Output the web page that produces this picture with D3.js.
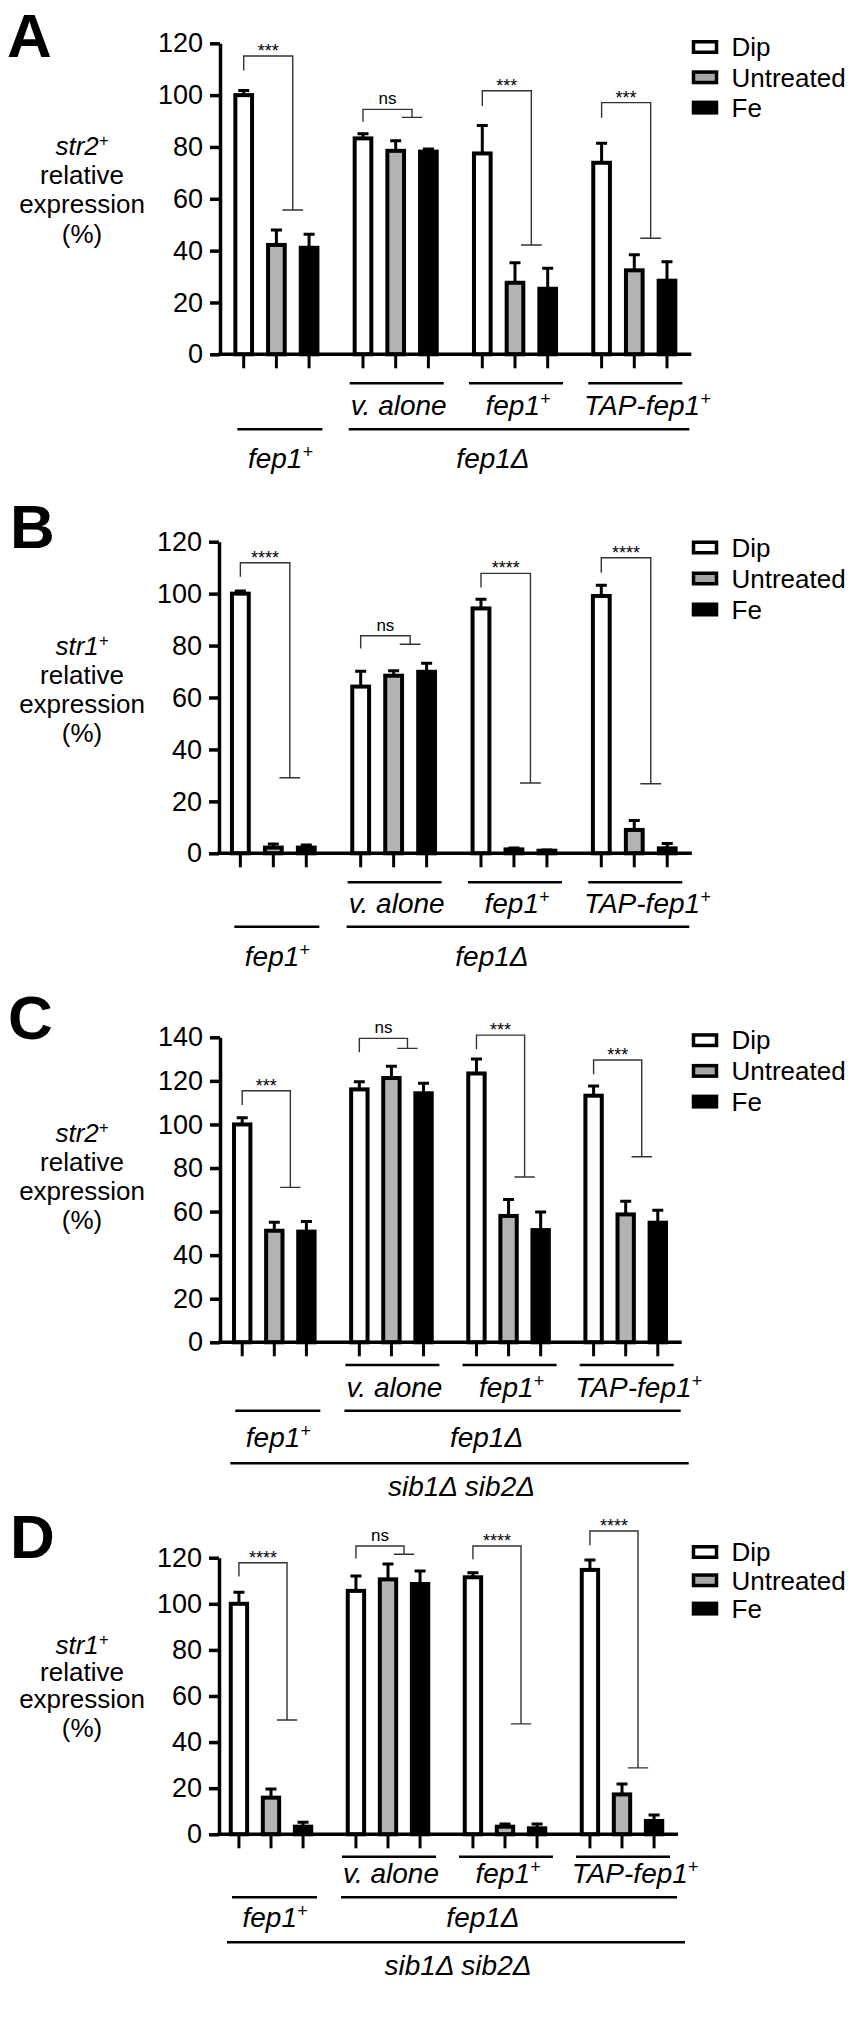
<!DOCTYPE html>
<html><head><meta charset="utf-8">
<script src="https://cdn.jsdelivr.net/npm/d3@7"></script>
<style>
body{margin:0;background:#fff}
svg{display:block}
text{font-family:'Liberation Sans',Arial,Helvetica,sans-serif;fill:#000}
</style>
</head><body>
<svg id="chart" width="851" height="2031"></svg>
<script>
// ---------- data ----------
const treatments = ["Dip", "Untreated", "Fe"];
const strains = ["fep1+", "fep1Δ v. alone", "fep1Δ fep1+", "fep1Δ TAP-fep1+"];
const strainLabels = ["fep1+", "v. alone", "fep1+", "TAP-fep1+"];
const backgroundLabel = "fep1Δ";
const doubleMutantLabel = "sib1Δ sib2Δ";
const panelLetters = ["A", "B", "C", "D"];
const geneLabels = ["str2+", "str1+", "str2+", "str1+"];
const yLabelLines = ["relative", "expression", "(%)"];
const yTicksA = [0, 20, 40, 60, 80, 100, 120];
const yTicksB = [0, 20, 40, 60, 80, 100, 120];
const yTicksC = [0, 20, 40, 60, 80, 100, 120, 140];
const yTicksD = [0, 20, 40, 60, 80, 100, 120];

// means [strain][treatment] and SD (upper error)
const meansA = [[100, 42.2, 41.1], [83.3, 78.5, 78.2], [77.5, 27.6, 25.3], [73.9, 32.4, 28.4]];
const errA   = [[1.8, 5.8, 5.2], [1.8, 3.9, 1.0], [10.8, 7.7, 7.9], [7.5, 6.0, 7.3]];
const meansB = [[100, 2.2, 2.2], [64.2, 68.4, 69.9], [94.3, 1.5, 1.0], [99.1, 9.0, 1.9]];
const errB   = [[1.0, 1.4, 1.0], [5.9, 1.9, 3.3], [3.5, 0.5, 0.3], [4.1, 3.6, 1.9]];
const meansC = [[100, 51.2, 50.8], [116.1, 121.3, 114.3], [123.4, 58.0, 51.5], [113.2, 58.7, 54.9]];
const errC   = [[3.1, 3.9, 4.6], [3.5, 5.4, 4.6], [6.6, 7.6, 8.3], [4.4, 6.0, 5.7]];
const meansD = [[100, 15.9, 3.3], [105.6, 110.6, 108.6], [111.5, 3.3, 2.6], [114.7, 17.3, 5.8]];
const errD   = [[5.0, 3.8, 1.9], [6.5, 6.7, 5.6], [2.0, 1.2, 1.9], [4.3, 4.5, 2.6]];

// significance: label per strain, bracket levels [left leg end, top, right leg end] in % units
const sigA = ["***", "ns", "***", "***"];
const sigLevelsA = [[109.5, 115.1, 55.7], [89.7, 94.5, 91.4], [95.8, 101.7, 42.2], [91.3, 97.1, 44.8]];
const sigB = ["****", "ns", "****", "****"];
const sigLevelsB = [[106.5, 111.9, 29.1], [78.9, 83.8, 80.5], [102.4, 107.8, 27.1], [108.0, 113.8, 26.8]];
const sigC = ["***", "ns", "***", "***"];
const sigLevelsC = [[108.9, 115.5, 71.1], [133.1, 139.5, 134.9], [134.5, 141.0, 75.9], [123.0, 129.6, 85.2]];
const sigD = ["****", "ns", "****", "****"];
const sigLevelsD = [[111.8, 117.8, 49.6], [119.7, 125.1, 121.5], [119.3, 125.1, 47.9], [125.4, 131.6, 28.8]];

const fills = {Dip: "#ffffff", Untreated: "#b3b3b3", Fe: "#000000"};

// ---------- layout (pixel positions per panel) ----------
const layouts = [
  {top: 43.3, zero: 354.3, axisX: 220, L: 219.35, R: 691.35, letterX: 7, letterY: 57,
   legendY: 47, legendStep: 30.3, ylab: [155, 184, 213, 243],
   upLine: 383.3, upText: 415, lowLine: 429.3, lowText: 468, sibLine: null, sibText: null},
  {top: 541.7, zero: 853.3, axisX: 219, L: 215.8, R: 691.8, letterX: 10, letterY: 548,
   legendY: 547.5, legendStep: 31, ylab: [655, 684, 713, 742],
   upLine: 882.3, upText: 913, lowLine: 926.7, lowText: 966, sibLine: null, sibText: null},
  {top: 1037.3, zero: 1342.3, axisX: 220, L: 218.3, R: 681.7, letterX: 8, letterY: 1039,
   legendY: 1040.2, legendStep: 30.7, ylab: [1142, 1171, 1200, 1229],
   upLine: 1365, upText: 1396.7, lowLine: 1410.7, lowText: 1446.7, sibLine: 1463.3, sibText: 1496},
  {top: 1557.7, zero: 1834.3, axisX: 219, L: 215.05, R: 677.95, letterX: 10, letterY: 1558,
   legendY: 1552, legendStep: 28.3, ylab: [1654, 1681, 1708, 1737],
   upLine: 1856.7, upText: 1883.3, lowLine: 1897.3, lowText: 1926.7, sibLine: 1942.3, sibText: 1975}
];

const panels = [
  {means: meansA, err: errA, ticks: yTicksA, sig: sigA, levels: sigLevelsA},
  {means: meansB, err: errB, ticks: yTicksB, sig: sigB, levels: sigLevelsB},
  {means: meansC, err: errC, ticks: yTicksC, sig: sigC, levels: sigLevelsC},
  {means: meansD, err: errD, ticks: yTicksD, sig: sigD, levels: sigLevelsD}
];

const svg = d3.select("#chart");

function supText(sel, str, fs, italic) {
  const t = sel.attr("font-size", fs);
  if (italic) t.attr("font-style", "italic");
  if (str.endsWith("+")) {
    t.append("tspan").text(str.slice(0, -1));
    t.append("tspan").attr("dy", -fs * 0.36).attr("font-size", fs * 0.64).text("+");
  } else {
    t.text(str);
  }
  return t;
}

panels.forEach((p, pi) => {
  const lay = layouts[pi];
  const g = svg.append("g");
  const yMax = d3.max(p.ticks);
  const y = d3.scaleLinear().domain([0, yMax]).range([lay.zero, lay.top]);
  const x0 = d3.scaleBand().domain(strains).range([lay.L, lay.R]).paddingInner(0.0436).paddingOuter(0);
  const x1 = d3.scaleBand().domain(treatments).range([0, x0.bandwidth()]).padding(0.49);
  const bw = x1.bandwidth();
  const cx = (si, t) => x0(strains[si]) + x1(t) + bw / 2;

  // panel letter
  g.append("text").attr("x", lay.letterX).attr("y", lay.letterY)
    .attr("font-size", 62).attr("font-weight", "bold").text(panelLetters[pi]);

  // y label
  const ylx = 82;
  supText(g.append("text").attr("x", ylx).attr("y", lay.ylab[0]).attr("text-anchor", "middle"), geneLabels[pi], 26, true);
  yLabelLines.forEach((s, i) => {
    g.append("text").attr("x", ylx).attr("y", lay.ylab[i + 1]).attr("text-anchor", "middle")
      .attr("font-size", 26).text(s);
  });

  // y axis
  const yAxis = g.append("g").attr("transform", `translate(${lay.axisX},0)`)
    .call(d3.axisLeft(y).tickValues(p.ticks).tickSize(10).tickSizeOuter(0).tickPadding(7).tickFormat(d3.format("d")));
  yAxis.select(".domain").attr("stroke", "#000").attr("stroke-width", 3.5);
  yAxis.selectAll(".tick line").attr("stroke", "#000").attr("stroke-width", 3.5);
  yAxis.selectAll(".tick text").attr("font-size", 27).attr("font-family", "'Liberation Sans',Arial,sans-serif").attr("fill", "#000");

  // bars
  const flat = [];
  strains.forEach((s, si) => treatments.forEach((t, ti) => flat.push({si, t, v: p.means[si][ti], e: p.err[si][ti]})));
  g.selectAll("rect.bar").data(flat).enter().append("rect").attr("class", "bar")
    .attr("x", d => x0(strains[d.si]) + x1(d.t))
    .attr("y", d => y(d.v))
    .attr("width", bw)
    .attr("height", d => y(0) - y(d.v))
    .attr("fill", d => fills[d.t]).attr("stroke", "#000").attr("stroke-width", 4);

  // error bars (upper)
  g.selectAll("path.err").data(flat).enter().append("path").attr("class", "err")
    .attr("d", d => {
      const c = cx(d.si, d.t);
      return `M${c},${y(d.v)}V${y(d.v + d.e)}M${c - 5.5},${y(d.v + d.e)}H${c + 5.5}`;
    })
    .attr("fill", "none").attr("stroke", "#000").attr("stroke-width", 3);

  // x axis line
  g.append("line").attr("x1", lay.axisX - 1.75).attr("x2", lay.R).attr("y1", y(0)).attr("y2", y(0))
    .attr("stroke", "#000").attr("stroke-width", 3.5);
  // x ticks
  g.selectAll("line.xt").data(flat).enter().append("line").attr("class", "xt")
    .attr("x1", d => cx(d.si, d.t)).attr("x2", d => cx(d.si, d.t))
    .attr("y1", y(0)).attr("y2", y(0) + 14).attr("stroke", "#000").attr("stroke-width", 3);

  // significance brackets
  strains.forEach((s, si) => {
    const [lb, tp, rb] = p.levels[si];
    const xl = cx(si, "Dip");
    const xr = (cx(si, "Untreated") + cx(si, "Fe")) / 2;
    const capW = bw + 4;
    g.append("path")
      .attr("d", `M${xl},${y(lb)}V${y(tp)}H${xr}V${y(rb)}M${xr - capW / 2},${y(rb)}H${xr + capW / 2}`)
      .attr("fill", "none").attr("stroke", "#333").attr("stroke-width", 1.4);
    const lab = p.sig[si];
    g.append("text").attr("x", (xl + xr) / 2).attr("y", y(tp) + (lab === "ns" ? -5 : 1))
      .attr("text-anchor", "middle").attr("font-size", lab === "ns" ? 17 : 18).attr("fill", "#222").text(lab);
  });

  // legend
  treatments.forEach((t, i) => {
    const ly = lay.legendY + i * lay.legendStep;
    g.append("rect").attr("x", 693.5).attr("y", ly - 5.25).attr("width", 23).attr("height", 10.5)
      .attr("fill", t === "Untreated" ? "#a6a6a6" : fills[t]).attr("stroke", "#000").attr("stroke-width", 3.5);
    g.append("text").attr("x", 731.5).attr("y", ly + 9.2).attr("font-size", 26).text(t);
  });

  // strain labels (upper row for fep1Δ complemented strains)
  const gc = si => x0(strains[si]) + x0.bandwidth() / 2;
  const dxLab = [3, 3, 3, 13];
  [1, 2, 3].forEach(si => {
    g.append("line").attr("x1", gc(si) - 46).attr("x2", gc(si) + 48).attr("y1", lay.upLine).attr("y2", lay.upLine)
      .attr("stroke", "#000").attr("stroke-width", 2.5);
    supText(g.append("text").attr("x", gc(si) + dxLab[si]).attr("y", lay.upText).attr("text-anchor", "middle"),
      strainLabels[si], 28, true);
  });
  // wild type fep1+
  g.append("line").attr("x1", gc(0) - 39).attr("x2", gc(0) + 46).attr("y1", lay.lowLine).attr("y2", lay.lowLine)
    .attr("stroke", "#000").attr("stroke-width", 2.5);
  supText(g.append("text").attr("x", gc(0) + 4).attr("y", lay.lowText).attr("text-anchor", "middle"),
    strainLabels[0], 28, true);
  // fep1Δ
  const dl = gc(1) - 47, dr = gc(3) + 55;
  g.append("line").attr("x1", dl).attr("x2", dr).attr("y1", lay.lowLine).attr("y2", lay.lowLine)
    .attr("stroke", "#000").attr("stroke-width", 2.5);
  g.append("text").attr("x", (dl + dr) / 2 - 26).attr("y", lay.lowText).attr("text-anchor", "middle")
    .attr("font-size", 28).attr("font-style", "italic").text(backgroundLabel);
  // sib1Δ sib2Δ
  if (lay.sibLine !== null) {
    const sl = gc(0) - 44, sr = gc(3) + 63;
    g.append("line").attr("x1", sl).attr("x2", sr).attr("y1", lay.sibLine).attr("y2", lay.sibLine)
      .attr("stroke", "#000").attr("stroke-width", 2.5);
    g.append("text").attr("x", (sl + sr) / 2 + 2).attr("y", lay.sibText).attr("text-anchor", "middle")
      .attr("font-size", 28).attr("font-style", "italic").text(doubleMutantLabel);
  }
});
</script>
</body></html>
